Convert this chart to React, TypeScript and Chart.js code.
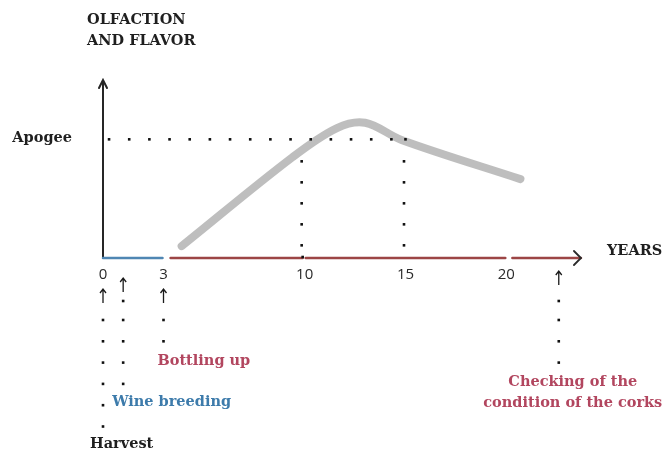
import { useEffect, useRef } from "react";
import { Chart, registerables } from "chart.js";

Chart.register(...registerables);

// ---- data ----
const curveYears = [3.9, 9.4, 11.6, 13.0, 14.8, 20.7];
const curveQuality = [1.0, 8.5, 10.95, 11.4, 9.95, 6.65];
const tickYears = [0, 3, 10, 15, 20];
const apogeeLevel = 10;
const apogeeYears = [10, 15];
const breedingSpan = [0, 2.95];
const agingSpans = [[3.35, 9.9], [10.05, 19.95], [20.3, 23.7]];
const stageNames = ["Harvest", "Wine breeding", "Bottling up", "Checking of the\ncondition of the corks"];
const stageYears = [0, 1, 3, 22.6];
const stageColors = ["#1f1f1f", "#3d7bab", "#b2465f", "#b2465f"];
const xMax = 24;
const yMax = 15;

const serifBold = "bold 14.5px 'DejaVu Serif'";

function arrowUp(ctx: CanvasRenderingContext2D, x: number, yc: number) {
  ctx.beginPath();
  ctx.moveTo(x, yc + 7);
  ctx.lineTo(x, yc - 7);
  ctx.moveTo(x - 3, yc - 3);
  ctx.lineTo(x, yc - 7);
  ctx.lineTo(x + 3, yc - 3);
  ctx.stroke();
}

function dot(ctx: CanvasRenderingContext2D, x: number, y: number) {
  ctx.fillRect(x - 1.3, y - 1.3, 2.6, 2.6);
}

const annotations = {
  id: "annotations",
  beforeDatasetsDraw(chart: any) {
    const { ctx, scales } = chart;
    const X = (v: number) => scales.x.getPixelForValue(v);
    const Y = (v: number) => scales.y.getPixelForValue(v);
    const y0 = Y(0);
    ctx.save();
    ctx.lineCap = "round";
    // y axis
    ctx.strokeStyle = "#262626";
    ctx.lineWidth = 2;
    ctx.beginPath();
    ctx.moveTo(X(0), y0);
    ctx.lineTo(X(0), Y(yMax));
    ctx.moveTo(X(0) - 4, Y(yMax) + 8);
    ctx.lineTo(X(0), Y(yMax));
    ctx.lineTo(X(0) + 4, Y(yMax) + 8);
    ctx.stroke();
    // x axis: breeding (blue)
    ctx.strokeStyle = "#4f86b3";
    ctx.lineWidth = 2.5;
    ctx.beginPath();
    ctx.moveTo(X(breedingSpan[0]), y0);
    ctx.lineTo(X(breedingSpan[1]), y0);
    ctx.stroke();
    // x axis: aging (red)
    ctx.strokeStyle = "#9c4545";
    agingSpans.forEach(([a, b]) => {
      ctx.beginPath();
      ctx.moveTo(X(a), y0);
      ctx.lineTo(X(b), y0);
      ctx.stroke();
    });
    // arrow head
    const end = X(agingSpans[agingSpans.length - 1][1]);
    ctx.strokeStyle = "#2a2a2a";
    ctx.lineWidth = 1.8;
    ctx.beginPath();
    ctx.moveTo(end - 7, y0 - 7);
    ctx.lineTo(end, y0);
    ctx.lineTo(end - 7, y0 + 7);
    ctx.stroke();
    ctx.restore();
  },
  afterDatasetsDraw(chart: any) {
    const { ctx, scales } = chart;
    const X = (v: number) => scales.x.getPixelForValue(v);
    const Y = (v: number) => scales.y.getPixelForValue(v);
    const y0 = Y(0);
    const yA = Y(apogeeLevel);
    ctx.save();
    ctx.fillStyle = "#111";
    // apogee dotted horizontal
    for (let v = 0.3; v < apogeeYears[1] - 0.5; v += 1) dot(ctx, X(v), yA);
    dot(ctx, X(apogeeYears[1]), yA);
    // vertical dotted at apogee years
    apogeeYears.forEach((v, i) => {
      for (let k = 0; k < 5; k++) dot(ctx, X(v) - (i === 0 ? 3 : 1.5), yA + 22 + k * 21);
    });
    dot(ctx, X(apogeeYears[0]) - 2, y0 - 1);

    // tick labels
    ctx.fillStyle = "#2a2a2a";
    ctx.font = "15px 'Open Sans'";
    ctx.textAlign = "center";
    ctx.textBaseline = "middle";
    tickYears.forEach((v) => ctx.fillText(String(v), X(v), y0 + 17));

    // stage markers
    ctx.strokeStyle = "#1a1a1a";
    ctx.fillStyle = "#111";
    ctx.lineWidth = 1.3;
    const step = 21.3;
    // harvest
    arrowUp(ctx, X(stageYears[0]), y0 + 38);
    for (let k = 0; k < 6; k++) dot(ctx, X(stageYears[0]), y0 + 62 + k * step);
    // breeding
    arrowUp(ctx, X(stageYears[1]), y0 + 27);
    dot(ctx, X(stageYears[1]), y0 + 43);
    for (let k = 0; k < 4; k++) dot(ctx, X(stageYears[1]), y0 + 62 + k * step);
    // bottling
    arrowUp(ctx, X(stageYears[2]), y0 + 38);
    for (let k = 0; k < 2; k++) dot(ctx, X(stageYears[2]), y0 + 62 + k * step);
    // corks
    arrowUp(ctx, X(stageYears[3]), y0 + 20);
    dot(ctx, X(stageYears[3]), y0 + 43);
    for (let k = 0; k < 3; k++) dot(ctx, X(stageYears[3]), y0 + 62 + k * step);

    // stage labels
    ctx.font = serifBold;
    ctx.textBaseline = "middle";
    ctx.textAlign = "left";
    ctx.fillStyle = stageColors[0];
    ctx.fillText(stageNames[0], X(stageYears[0]) - 13, y0 + 186);
    ctx.fillStyle = stageColors[1];
    ctx.fillText(stageNames[1], X(stageYears[1]) - 11, y0 + 144);
    ctx.fillStyle = stageColors[2];
    ctx.fillText(stageNames[2], X(stageYears[2]) - 6, y0 + 103);
    ctx.fillStyle = stageColors[3];
    ctx.textAlign = "center";
    stageNames[3].split("\n").forEach((line, i) => {
      ctx.fillText(line, X(stageYears[3]) + 14, y0 + 124 + i * 21);
    });

    // axis titles
    ctx.fillStyle = "#1f1f1f";
    ctx.textAlign = "left";
    ctx.fillText("OLFACTION", X(0) - 16, Y(yMax) - 60);
    ctx.fillText("AND FLAVOR", X(0) - 16, Y(yMax) - 39);
    ctx.textAlign = "right";
    ctx.fillText("Apogee", X(0) - 31, yA - 1);
    ctx.textAlign = "left";
    ctx.fillText("YEARS", X(xMax) + 20, y0 - 7);
    ctx.restore();
  },
};

export default function App() {
  const ref = useRef<HTMLCanvasElement | null>(null);
  useEffect(() => {
    if (!ref.current) return;
    const chart = new Chart(ref.current, {
      type: "line",
      data: {
        datasets: [
          {
            data: curveYears.map((x, i) => ({ x, y: curveQuality[i] })),
            borderColor: "rgba(186,186,186,0.95)",
            borderWidth: 8,
            borderCapStyle: "round",
            tension: 0.35,
            pointRadius: 0,
            fill: false,
          },
        ],
      },
      options: {
        responsive: false,
        animation: false,
        devicePixelRatio: 1,
        layout: { padding: { left: 103, right: 76, top: 80, bottom: 195 } },
        scales: {
          x: { type: "linear", min: 0, max: xMax, display: false },
          y: { type: "linear", min: 0, max: yMax, display: false },
        },
        plugins: { legend: { display: false }, tooltip: { enabled: false } },
      },
      plugins: [annotations],
    });
    return () => chart.destroy();
  }, []);
  return (
    <div style={{ position: "fixed", left: 0, top: 0, width: 663, height: 453, background: "#fff" }}>
      <canvas ref={ref} width={663} height={453} />
    </div>
  );
}
